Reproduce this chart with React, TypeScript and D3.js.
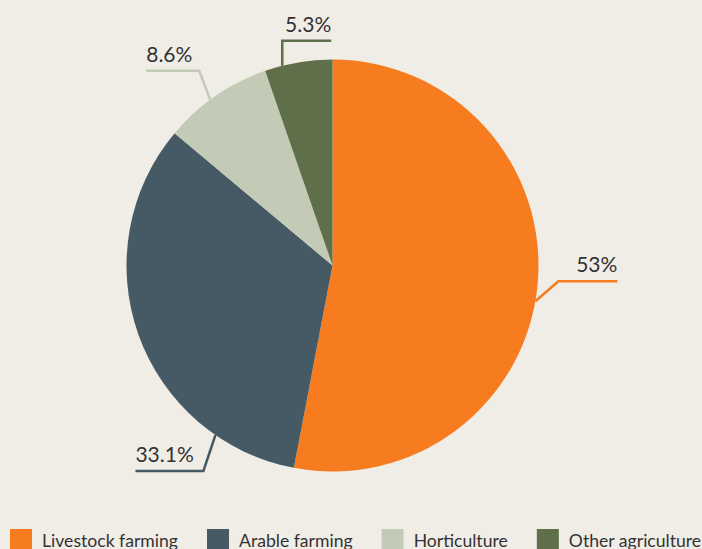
import React, { useEffect, useRef } from 'react';
import * as d3 from 'd3';

const categories = ['Livestock farming', 'Arable farming', 'Horticulture', 'Other agriculture'];
const shares = [53, 33.1, 8.6, 5.3];
const labels = ['53%', '33.1%', '8.6%', '5.3%'];
const colors = ['#f77c20', '#465a66', '#c3cab5', '#5f6f49'];

// where each leader line leaves the slice (fraction of the slice's sweep) and how it bends
const labelAnchor = [0.524, 0.2, 0.44, 0.26];
const labelBend = [[23, -20], [-12, 36], [-11, -29], [0, -25]];
const labelRun = [59, -68, -53, 49];

const App = () => {
  const svgRef = useRef<SVGSVGElement>(null);

  useEffect(() => {
    if (!svgRef.current) return;
    const width = 702;
    const height = 549;
    const cx = 332.5;
    const cy = 265.5;
    const radius = 206;

    const svg = d3.select(svgRef.current);
    svg.selectAll('*').remove();
    svg.attr('width', width).attr('height', height);

    svg.append('rect')
      .attr('width', width)
      .attr('height', height)
      .attr('fill', '#f0ede7');

    const data = categories.map((c, i) => ({ name: c, value: shares[i], i }));

    const pie = d3.pie<any>()
      .sort(null)
      .value(d => d.value)(data);

    const arc = d3.arc<any>()
      .innerRadius(0)
      .outerRadius(radius);

    const g = svg.append('g').attr('transform', `translate(${cx},${cy})`);

    g.selectAll('path')
      .data(pie)
      .enter().append('path')
      .attr('d', arc)
      .attr('fill', d => colors[d.data.i]);

    // leader lines + labels
    pie.forEach(d => {
      const i = d.data.i;
      const a = d.startAngle + (d.endAngle - d.startAngle) * labelAnchor[i];
      const x0 = Math.sin(a) * radius;
      const y0 = -Math.cos(a) * radius;
      const x1 = x0 + labelBend[i][0];
      const y1 = y0 + labelBend[i][1];
      const x2 = x1 + labelRun[i];

      g.append('path')
        .attr('d', d3.line()([[x0, y0], [x1, y1], [x2, y1]]))
        .attr('fill', 'none')
        .attr('stroke', colors[i])
        .attr('stroke-width', 2.5);

      g.append('text')
        .attr('x', x2)
        .attr('y', y1 - 9)
        .attr('text-anchor', labelRun[i] > 0 ? 'end' : 'start')
        .attr('font-family', 'Lato, sans-serif')
        .attr('font-size', 21)
        .attr('fill', '#333333')
        .text(labels[i]);
    });

    // legend
    const legend = svg.append('g').attr('transform', 'translate(10,529)');
    let x = 0;
    categories.forEach((c, i) => {
      const item = legend.append('g').attr('transform', `translate(${x},0)`);
      item.append('rect')
        .attr('width', 22)
        .attr('height', 22)
        .attr('fill', colors[i]);
      const t = item.append('text')
        .attr('x', 32)
        .attr('y', 18)
        .attr('font-family', 'Lato, sans-serif')
        .attr('font-size', 17.6)
        .attr('fill', '#333333')
        .text(c);
      const w = (t.node() as SVGTextElement).getComputedTextLength();
      x += 32 + w + 29;
    });
  }, []);

  return (
    <svg ref={svgRef} style={{ position: 'absolute', left: 0, top: 0, display: 'block' }}></svg>
  );
};

export default App;
